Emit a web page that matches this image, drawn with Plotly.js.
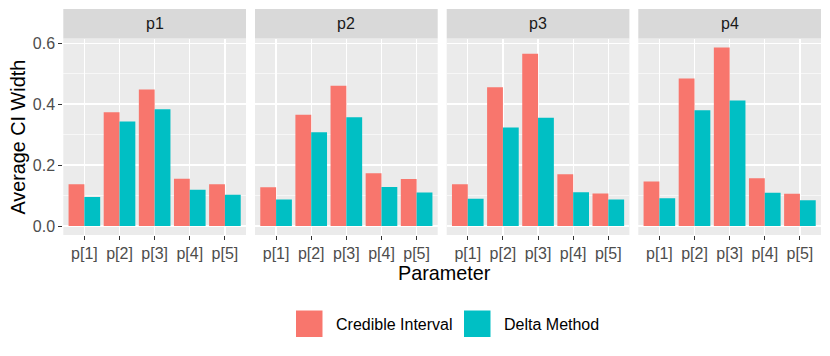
<!DOCTYPE html>
<html>
<head>
<meta charset="utf-8">
<script src="https://cdn.plot.ly/plotly-3.0.1.min.js"></script>
<style>
  html, body { margin: 0; padding: 0; background: #fff; }
  #chart { width: 830px; height: 356px; }
</style>
</head>
<body>
<div id="chart"></div>
<script>
// categories and facets
var params = ['p[1]', 'p[2]', 'p[3]', 'p[4]', 'p[5]'];
var panels = ['p1', 'p2', 'p3', 'p4'];

// Credible Interval widths, one array per panel
var ciP1 = [0.137, 0.373, 0.448, 0.155, 0.137];
var ciP2 = [0.127, 0.365, 0.460, 0.173, 0.154];
var ciP3 = [0.137, 0.455, 0.565, 0.170, 0.107];
var ciP4 = [0.146, 0.484, 0.586, 0.157, 0.106];

// Delta Method widths
var dmP1 = [0.095, 0.343, 0.383, 0.119, 0.103];
var dmP2 = [0.087, 0.308, 0.357, 0.128, 0.110];
var dmP3 = [0.090, 0.323, 0.355, 0.111, 0.087];
var dmP4 = [0.091, 0.380, 0.412, 0.109, 0.085];

var ciData = [ciP1, ciP2, ciP3, ciP4];
var dmData = [dmP1, dmP2, dmP3, dmP4];

var W = 830, H = 356;
var red = '#F8766D', teal = '#00BFC4';
var font = 'Liberation Sans, Arial, Helvetica, sans-serif';

function px(x) { return x / W; }
function py(y) { return 1 - y / H; }

// panel placement in pixels
var panelLeft = [63.3, 255.0, 446.7, 638.3];
var panelWidth = 182.7;
var panelTop = 38.5, panelBottom = 235;
var stripTop = 9;

var data = [];
var layout = {
  width: W,
  height: H,
  margin: {l: 0, r: 0, t: 0, b: 0},
  paper_bgcolor: '#FFFFFF',
  plot_bgcolor: '#EBEBEB',
  barmode: 'group',
  bargap: 0.1,
  bargroupgap: 0,
  showlegend: false,
  font: {family: font, color: '#4D4D4D'},
  shapes: [],
  annotations: []
};

panels.forEach(function (name, i) {
  var n = i === 0 ? '' : String(i + 1);
  data.push({
    type: 'bar', x: params, y: ciData[i], name: 'Credible Interval',
    marker: {color: red, line: {width: 0}},
    xaxis: 'x' + n, yaxis: 'y' + n, hoverinfo: 'x+y+name'
  });
  data.push({
    type: 'bar', x: params, y: dmData[i], name: 'Delta Method',
    marker: {color: teal, line: {width: 0}},
    xaxis: 'x' + n, yaxis: 'y' + n, hoverinfo: 'x+y+name'
  });

  layout['xaxis' + n] = {
    type: 'category',
    domain: [px(panelLeft[i]), px(panelLeft[i] + panelWidth)],
    anchor: 'y' + n,
    range: [-0.6, 4.6],
    showgrid: true, gridcolor: '#FFFFFF', gridwidth: 1.3,
    zeroline: false, showline: false,
    ticks: 'outside', ticklen: 4, tickcolor: '#333333', tickwidth: 1,
    tickfont: {size: 16, color: '#4D4D4D', family: font},
    fixedrange: true
  };
  layout['yaxis' + n] = {
    domain: [py(panelBottom), py(panelTop)],
    anchor: 'x' + n,
    range: [-0.0293, 0.6153],
    tickvals: [0, 0.2, 0.4, 0.6],
    ticktext: ['0.0', '0.2', '0.4', '0.6'],
    showgrid: true, gridcolor: '#FFFFFF', gridwidth: 1.3,
    minor: {tickvals: [0.1, 0.3, 0.5], showgrid: true, gridcolor: '#FFFFFF', gridwidth: 0.6, ticks: ''},
    zeroline: false, showline: false,
    ticks: i === 0 ? 'outside' : '', ticklen: 4, tickcolor: '#333333', tickwidth: 1,
    showticklabels: i === 0,
    tickfont: {size: 16, color: '#4D4D4D', family: font},
    fixedrange: true
  };

  // facet strip
  layout.shapes.push({
    type: 'rect', xref: 'paper', yref: 'paper', layer: 'below',
    x0: px(panelLeft[i]), x1: px(panelLeft[i] + panelWidth),
    y0: py(panelTop), y1: py(stripTop),
    fillcolor: '#D9D9D9', line: {width: 0}
  });
  layout.annotations.push({
    xref: 'paper', yref: 'paper', showarrow: false,
    x: px(panelLeft[i] + panelWidth / 2), y: py((stripTop + panelTop) / 2),
    xanchor: 'center', yanchor: 'middle',
    text: name, font: {size: 16, color: '#1A1A1A', family: font}
  });
});

// axis titles
layout.annotations.push({
  xref: 'paper', yref: 'paper', showarrow: false,
  x: px(17), y: py(137.5),
  xanchor: 'center', yanchor: 'middle', textangle: -90,
  text: 'Average CI Width', font: {size: 19.8, color: '#000000', family: font}
});
layout.annotations.push({
  xref: 'paper', yref: 'paper', showarrow: false,
  x: px(444), y: py(273),
  xanchor: 'center', yanchor: 'middle',
  text: 'Parameter', font: {size: 19.8, color: '#000000', family: font}
});

// legend keys
var legendItems = [
  {label: 'Credible Interval', color: red, keyX: 296, textX: 334},
  {label: 'Delta Method', color: teal, keyX: 464, textX: 501.7}
];
legendItems.forEach(function (it) {
  layout.shapes.push({
    type: 'rect', xref: 'paper', yref: 'paper',
    x0: px(it.keyX), x1: px(it.keyX + 26.5),
    y0: py(337), y1: py(310.5),
    fillcolor: it.color, line: {width: 0}
  });
  layout.annotations.push({
    xref: 'paper', yref: 'paper', showarrow: false,
    x: px(it.textX), y: py(324),
    xanchor: 'left', yanchor: 'middle',
    text: it.label, font: {size: 16, color: '#000000', family: font}
  });
});

Plotly.newPlot('chart', data, layout, {displayModeBar: false, staticPlot: true});
</script>
</body>
</html>
